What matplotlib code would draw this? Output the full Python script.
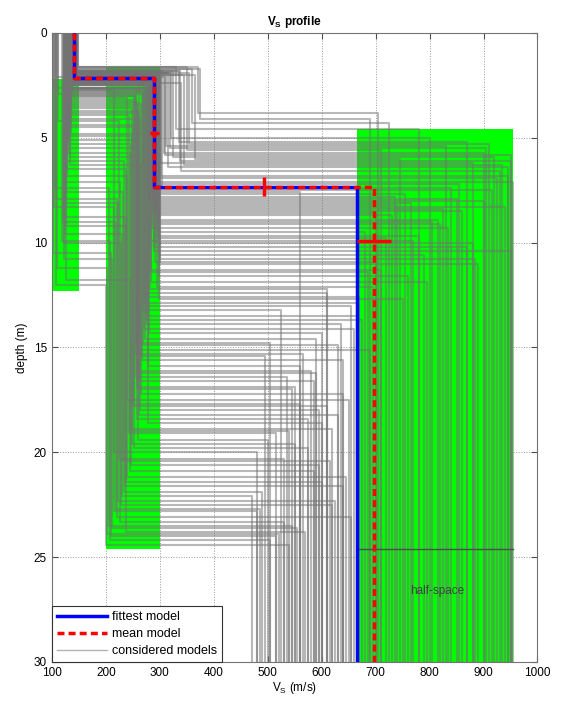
import numpy as np
import matplotlib.pyplot as plt

# considered models: vs of layer 1, bottom of layer 1, vs of layer 2,
# bottom of layer 2, vs of half-space
vs1 = [138, 142, 108, 145, 103, 140, 135, 148, 112, 143, 128, 139, 146, 132,
       141, 105, 137, 144, 126, 140, 134, 147, 122, 142, 112, 145, 136, 140,
       102, 138, 143, 131, 141, 124, 139, 146, 133, 140, 127, 144, 135, 142,
       107, 137, 145, 130, 140, 108, 143, 134, 141, 148, 128, 139, 136, 144,
       123, 140, 132, 146, 138, 142, 104, 137, 145, 131, 140, 126, 143, 135,
       133, 141, 127, 144, 136, 139, 122, 146, 131, 140, 138, 125, 143, 135,
       142, 119, 137, 145, 129, 140, 134, 147, 124, 141, 130, 144, 136, 139,
       110, 142, 133, 146, 128, 140, 137, 121, 143, 135, 141, 126, 138, 145,
       132, 140, 123, 139, 144, 130, 142, 136]
z1 = [2.0, 2.3, 2.1, 1.8, 2.6, 2.2, 3.1, 1.6, 4.2, 2.4, 5.5, 2.0, 1.9, 2.7,
      2.2, 7.4, 2.5, 2.1, 3.6, 2.3, 6.3, 1.7, 8.8, 2.0, 2.9, 2.4, 4.8, 2.1,
      10.5, 2.6, 1.9, 3.3, 2.2, 9.6, 2.4, 2.0, 5.9, 2.3, 11.8, 2.1, 2.8, 1.8,
      7.9, 2.5, 2.2, 4.5, 2.0, 12.0, 2.3, 3.8, 2.1, 1.6, 6.8, 2.4, 2.7, 1.9,
      10.0, 2.2, 3.0, 2.0, 2.5, 2.3, 8.3, 2.6, 1.8, 5.1, 2.1, 9.2, 2.2, 3.4,
      2.4, 2.0, 3.9, 1.9, 2.6, 2.2, 6.1, 1.7, 3.2, 2.3, 2.5, 7.1, 2.1, 4.4,
      2.2, 9.9, 2.7, 1.8, 5.3, 2.0, 3.5, 1.6, 8.1, 2.3, 4.9, 2.0, 2.8, 2.4,
      11.2, 2.1, 3.7, 1.9, 6.5, 2.2, 2.6, 9.0, 2.0, 3.0, 2.3, 7.6, 2.5, 1.8,
      4.1, 2.2, 10.8, 2.4, 1.9, 5.7, 2.1, 2.9]
vs2 = [285, 296, 270, 300, 255, 290, 240, 330, 225, 292, 260, 280, 355, 215,
       298, 205, 275, 310, 248, 287, 265, 375, 235, 293, 252, 340, 270, 289,
       210, 280, 320, 258, 295, 230, 284, 365, 262, 291, 245, 297, 268, 305,
       220, 278, 299, 250, 288, 200, 294, 260, 286, 350, 240, 282, 272, 315,
       228, 292, 255, 300, 276, 296, 215, 279, 335, 258, 290, 238, 298, 265,
       262, 288, 243, 318, 274, 286, 233, 360, 252, 293, 281, 226, 302, 257,
       289, 208, 271, 325, 246, 291, 259, 370, 222, 295, 249, 345, 267, 283,
       203, 297, 261, 312, 238, 290, 276, 218, 300, 254, 294, 231, 279, 338,
       264, 287, 212, 282, 308, 244, 296, 269]
z2 = [7.6, 9.8, 12.4, 6.2, 14.8, 8.3, 17.5, 4.6, 20.3, 10.9, 16.2, 7.9, 5.3,
      22.8, 11.6, 23.5, 13.7, 5.8, 18.9, 9.1, 15.4, 4.1, 21.6, 8.7, 19.8, 6.6,
      12.9, 10.2, 24.0, 14.3, 5.0, 16.9, 7.1, 22.1, 11.3, 6.0, 18.2, 8.0, 20.9,
      9.5, 13.2, 7.4, 23.1, 15.9, 10.6, 17.8, 6.9, 24.4, 12.1, 19.4, 8.5, 5.6,
      21.2, 9.9, 14.6, 6.4, 22.5, 7.8, 16.4, 11.0, 13.5, 8.9, 20.0, 18.6, 5.2,
      15.1, 10.4, 23.8, 12.7, 17.2,
      16.6, 8.1, 19.1, 5.5, 13.9, 9.3, 21.9, 4.3, 17.7, 10.0, 12.2, 23.3, 6.8,
      18.4, 8.6, 24.2, 14.1, 5.9, 20.6, 9.7, 17.0, 3.8, 22.3, 7.2, 19.6, 6.3,
      15.6, 11.9, 23.9, 7.5, 16.1, 5.4, 21.4, 8.2, 13.0, 22.7, 10.8, 15.3, 9.0,
      20.4, 12.6, 6.1, 18.0, 7.7, 23.6, 11.4, 5.7, 19.0, 8.4, 14.9]
vs3 = [560, 720, 610, 880, 505, 940, 650, 780, 530, 700, 590, 850, 910, 480,
       760, 545, 675, 950, 620, 820, 495, 690, 640, 730, 575, 930, 665, 870,
       515, 600, 800, 550, 955, 470, 710, 745, 630, 900, 585, 680, 525, 840,
       655, 560, 790, 610, 925, 540, 695, 500, 860, 710, 645, 770, 590, 945,
       620, 735, 535, 890, 665, 815, 480, 600, 870, 690, 950, 570, 750, 640,
       585, 765, 515, 905, 635, 835, 490, 725, 560, 880, 610, 530, 945, 575,
       700, 505, 660, 920, 595, 780, 545, 705, 625, 855, 550, 935, 640, 795,
       520, 915, 580, 830, 600, 740, 655, 485, 885, 565, 805, 615, 670, 950,
       595, 755, 555, 685, 900, 540, 825, 630]

# search bounds shown in green: (vs min, vs max, depth top, depth bottom)
green_vs_min = [100, 200, 665]
green_vs_max = [150, 300, 955]
green_z_top = [2.2, 1.6, 4.6]
green_z_bot = [12.3, 24.6, 30.0]

# fittest and mean model
fit_vs = [141, 290, 665]
fit_z = [2.16, 7.33]
mean_vs = [141, 290, 697]
mean_z = [2.16, 7.33]

# mean model uncertainties
vs_err_depth = [4.75, 9.9]
vs_err_val = [290, 697]
vs_err = [9, 32]
z_err_vs = [493]
z_err_val = [7.33]
z_err = [0.45]

max_depth = 30


def step_profile(vs, z):
    xs, ys = [], []
    tops = [0] + list(z)
    bots = list(z) + [max_depth]
    for v, t, b in zip(vs, tops, bots):
        xs += [v, v]
        ys += [t, b]
    return xs, ys


def main():
    plt.rcParams['font.family'] = ['Liberation Sans', 'DejaVu Sans']
    fig = plt.figure(figsize=(5.64, 7.02), dpi=100)
    ax = fig.add_axes([0.092, 0.057, 0.861, 0.896])

    for a, b, t, bt in zip(green_vs_min, green_vs_max, green_z_top, green_z_bot):
        ax.fill_between([a, b], t, bt, color='#00ff00', lw=0, zorder=1)
    ax.plot([665, 955], [24.6, 24.6], color='0.3', lw=1.0, zorder=3)

    for i in range(len(vs1)):
        xs, ys = step_profile([vs1[i], vs2[i], vs3[i]], [z1[i], z2[i]])
        ax.plot(xs, ys, color=(0.45, 0.45, 0.45), alpha=0.5, lw=1.5, zorder=2)
    ax.plot([], [], color='0.7', lw=1.0, label='considered models')

    xs, ys = step_profile(fit_vs, fit_z)
    ax.plot(xs, ys, color='#0000ff', lw=2.5, zorder=4, label='fittest model')
    xs, ys = step_profile(mean_vs, mean_z)
    ax.plot(xs, ys, color='#ff0000', lw=2.5, ls=(0, (2, 1.2)), zorder=5,
            label='mean model')

    ax.errorbar(vs_err_val, vs_err_depth, xerr=vs_err, fmt='none',
                ecolor='#ff0000', elinewidth=2.5, capsize=0, zorder=6)
    ax.errorbar(z_err_vs, z_err_val, yerr=z_err, fmt='none',
                ecolor='#ff0000', elinewidth=2.5, capsize=0, zorder=6)

    ax.text(815, 26.6, 'half-space', fontsize=8.5, color='0.25',
            ha='center', va='center', zorder=7)

    ax.set_xlim(100, 1000)
    ax.set_ylim(max_depth, 0)
    ax.set_xticks(np.arange(100, 1001, 100))
    ax.set_yticks(np.arange(0, 31, 5))
    ax.tick_params(direction='in', top=True, right=True, labelsize=8.5,
                   length=4, color='0.3')
    ax.grid(True, ls=':', color='0.6', lw=0.7)
    ax.set_axisbelow(True)
    for s in ax.spines.values():
        s.set_color('0.45')

    ax.set_title('V$_\\mathregular{S}$ profile', fontsize=8.5, fontweight='bold')
    ax.set_xlabel('V$_\\mathregular{S}$ (m/s)', fontsize=8.5, labelpad=1)
    ax.set_ylabel('depth (m)', fontsize=8.5)

    h, l = ax.get_legend_handles_labels()
    order = [l.index('fittest model'), l.index('mean model'),
             l.index('considered models')]
    leg = ax.legend([h[k] for k in order], [l[k] for k in order],
                    loc='lower left', fontsize=9, fancybox=False,
                    framealpha=1, edgecolor='0.2', handlelength=4,
                    borderaxespad=0, borderpad=0.4, labelspacing=0.4,
                    handletextpad=0.4)
    leg.get_frame().set_linewidth(0.8)
    leg.set_zorder(10)

    fig.savefig('out.png', dpi=100)


if __name__ == "__main__":
    main()
